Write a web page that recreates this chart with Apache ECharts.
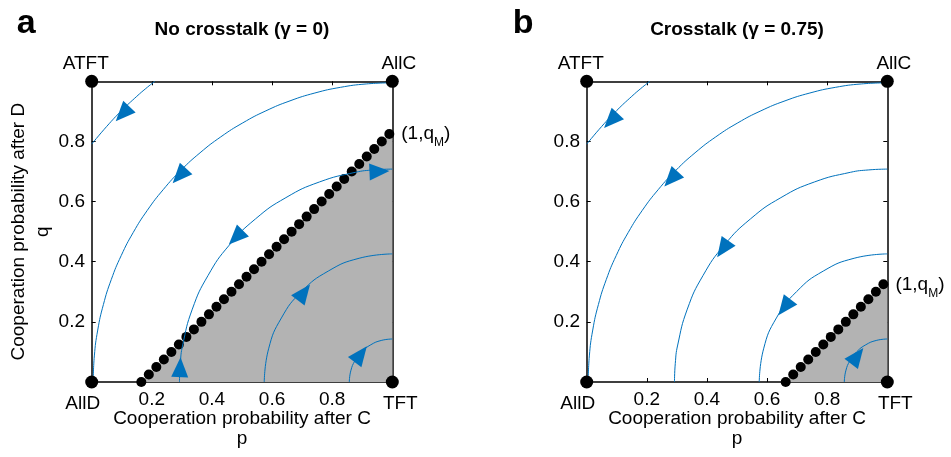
<!DOCTYPE html>
<html>
<head>
<meta charset="utf-8">
<script src="https://cdn.jsdelivr.net/npm/echarts@6/dist/echarts.min.js"></script>
<style>
  html, body { margin: 0; padding: 0; background: #fff; }
  #chart { width: 951px; height: 457px; }
</style>
</head>
<body>
<div id="chart"></div>
<script>
// ---------- data ----------
const tickLabels = ['0.2', '0.4', '0.6', '0.8'];
const panelLetters = ['a', 'b'];
const panelTitles = ['No crosstalk (\u03b3 = 0)', 'Crosstalk (\u03b3 = 0.75)'];
const axisNameP = ['Cooperation probability after C', 'p'];
const axisNameQ = ['Cooperation probability after D', 'q'];

// pure strategies at the corners of the (p, q) square
const cornerNames = ['AllD', 'TFT', 'ATFT', 'AllC'];
const cornerP = [0, 1, 0, 1];
const cornerQ = [0, 0, 1, 1];

// threshold line (black dots), panel a
const dotsPA = [0.165, 0.19, 0.215, 0.24, 0.265, 0.29, 0.315, 0.34, 0.365, 0.39, 0.415, 0.44,
  0.465, 0.49, 0.515, 0.54, 0.565, 0.59, 0.615, 0.64, 0.665, 0.69, 0.715, 0.74, 0.765, 0.79,
  0.815, 0.84, 0.865, 0.89, 0.915, 0.94, 0.965, 0.99];
const dotsQA = [0, 0.025, 0.05, 0.075, 0.1, 0.125, 0.15, 0.175, 0.2, 0.225, 0.25, 0.275,
  0.3, 0.325, 0.35, 0.375, 0.4, 0.425, 0.45, 0.475, 0.5, 0.525, 0.55, 0.575, 0.6, 0.625,
  0.65, 0.675, 0.7, 0.725, 0.75, 0.775, 0.8, 0.825];
// threshold line (black dots), panel b
const dotsPB = [0.662, 0.687, 0.712, 0.737, 0.762, 0.787, 0.812, 0.837, 0.862, 0.887, 0.912, 0.937, 0.962, 0.987];
const dotsQB = [0, 0.025, 0.05, 0.075, 0.1, 0.125, 0.15, 0.175, 0.2, 0.225, 0.25, 0.275, 0.3, 0.325];

// shaded region (below the threshold line)
const shadeA = [[0.165, 0], [1, 0.835]];
const shadeB = [[0.662, 0], [1, 0.338]];

// trajectories around TFT (same in both panels)
const traj1 = [[0, 0.791], [0.05, 0.85], [0.1, 0.903], [0.15, 0.95], [0.18, 0.976], [0.21, 1.0]];
const traj2 = [[0.005, 0], [0.0088, 0.0867], [0.0201, 0.1728], [0.0389, 0.2575], [0.065, 0.3403],
  [0.0982, 0.4205], [0.1383, 0.4975], [0.1849, 0.5707], [0.2378, 0.6396], [0.2964, 0.7036],
  [0.3604, 0.7622], [0.4293, 0.8151], [0.5025, 0.8617], [0.5795, 0.9018], [0.6597, 0.935],
  [0.7425, 0.9611], [0.8272, 0.9799], [0.9133, 0.9912], [1.0, 0.995]];
const traj3 = [[0.292, 0], [0.2947, 0.0617], [0.3027, 0.1229], [0.3347, 0.2422], [0.3869, 0.354],
  [0.4576, 0.4551], [0.5449, 0.5424], [0.646, 0.6131], [0.7578, 0.6653], [0.8771, 0.6973],
  [0.9383, 0.7053], [1.0, 0.708]];
const traj4 = [[0.574, 0], [0.5885, 0.1103], [0.6311, 0.213], [0.6988, 0.3012], [0.787, 0.3689],
  [0.8897, 0.4115], [1.0, 0.426]];
const traj5 = [[0.857, 0], [0.8619, 0.037], [0.8762, 0.0715], [0.8989, 0.1011], [0.9285, 0.1238],
  [0.963, 0.1381], [1.0, 0.143]];
const trajectories = [traj1, traj2, traj3, traj4, traj5];

// arrows: [p, q, trajectory index, direction (+1 along the listed order, -1 against it)]
const arrowsA = [[0.105, 0.894, 0, -1], [0.294, 0.688, 1, -1], [0.294, 0.046, 2, 1],
  [0.482, 0.483, 2, -1], [0.954, 0.70, 2, 1], [0.704, 0.295, 3, 1], [0.893, 0.09, 4, 1]];
const arrowsB = [[0.083, 0.871, 0, -1], [0.283, 0.677, 1, -1], [0.455, 0.445, 2, -1],
  [0.66, 0.251, 3, -1], [0.898, 0.084, 4, 1]];

// ---------- layout / style ----------
const FONT = "'Liberation Sans', Arial, Helvetica, sans-serif";
const BLUE = '#0072BD';
const GRAY = '#b3b3b3';
const gridBoxes = [
  { left: 91.7, top: 81.3, width: 300.6, height: 300.7 },
  { left: 586.7, top: 81.3, width: 300.6, height: 300.7 }
];
const cornerOffsets = [[-9, 21.4], [8, 21.4], [-6, -18], [6.5, -18]];

function tickIndex(v) {
  return tickLabels.findIndex(t => Math.abs(parseFloat(t) - v) < 1e-9);
}

function makeAxis(gridIndex, position, withLabels) {
  const ax = {
    type: 'value', gridIndex, position, min: 0, max: 1, interval: 0.2,
    axisLine: { show: true, onZero: false, lineStyle: { color: '#000', width: 1.5 } },
    axisTick: { show: true, inside: true, length: 4, lineStyle: { color: '#000', width: 1 } },
    splitLine: { show: false },
    axisLabel: { show: false }
  };
  if (withLabels) {
    const horiz = position === 'bottom';
    ax.axisLabel = {
      show: true, showMinLabel: false, showMaxLabel: false,
      color: '#000', fontFamily: FONT, fontSize: 19,
      margin: horiz ? 17.4 : 6.7,
      verticalAlign: 'middle',
      formatter: v => { const i = tickIndex(v); return i >= 0 ? tickLabels[i] : ''; }
    };
  }
  return ax;
}

const xAxes = [], yAxes = [];
for (let g = 0; g < 2; g++) {
  xAxes.push(makeAxis(g, 'bottom', true), makeAxis(g, 'top', false));
  yAxes.push(makeAxis(g, 'left', true), makeAxis(g, 'right', false));
}

// filled arrowheads, oriented along the local direction of their trajectory
function arrowSeries(g, arrows) {
  return {
    type: 'custom', xAxisIndex: 2 * g, yAxisIndex: 2 * g, clip: false, z: 6,
    data: arrows.map(a => [a[0], a[1]]),
    renderItem(params, api) {
      const a = arrows[params.dataIndex];
      const c = api.coord([a[0], a[1]]);
      const pts = trajectories[a[2]].map(pt => api.coord(pt));
      let best = Infinity, dir = [1, 0];
      for (let i = 0; i < pts.length - 1; i++) {
        const s = pts[i], e = pts[i + 1];
        const vx = e[0] - s[0], vy = e[1] - s[1];
        const len2 = vx * vx + vy * vy;
        let t = ((c[0] - s[0]) * vx + (c[1] - s[1]) * vy) / len2;
        t = Math.max(0, Math.min(1, t));
        const dx = s[0] + t * vx - c[0], dy = s[1] + t * vy - c[1];
        const d2 = dx * dx + dy * dy;
        if (d2 < best) { best = d2; dir = [vx, vy]; }
      }
      const n = Math.hypot(dir[0], dir[1]);
      const ux = a[3] * dir[0] / n, uy = a[3] * dir[1] / n;
      const L = 20, W = 17;
      const tip = [c[0] + ux * L * 0.55, c[1] + uy * L * 0.55];
      const bc = [c[0] - ux * L * 0.45, c[1] - uy * L * 0.45];
      const p1 = [bc[0] - uy * W / 2, bc[1] + ux * W / 2];
      const p2 = [bc[0] + uy * W / 2, bc[1] - ux * W / 2];
      return { type: 'polygon', shape: { points: [tip, p1, p2] }, style: { fill: BLUE } };
    }
  };
}

function panelSeries(g, dotsP, dotsQ, shade, arrows) {
  const list = [];
  list.push({
    type: 'line', xAxisIndex: 2 * g, yAxisIndex: 2 * g, data: shade,
    showSymbol: false, lineStyle: { width: 0 }, areaStyle: { color: GRAY, opacity: 1 },
    silent: true, z: 1
  });
  trajectories.forEach(tr => list.push({
    type: 'line', xAxisIndex: 2 * g, yAxisIndex: 2 * g, data: tr, smooth: 0.5,
    showSymbol: false, clip: false, lineStyle: { color: BLUE, width: 1 }, z: 5, silent: true
  }));
  const dots = dotsP.map((p, i) => [p, dotsQ[i]]);
  const last = dots.length - 1;
  list.push({
    type: 'scatter', xAxisIndex: 2 * g, yAxisIndex: 2 * g, symbolSize: 10, z: 4,
    itemStyle: { color: '#000', opacity: 1 },
    data: dots.map((d, i) => i === last ? {
      value: d,
      label: {
        show: true, position: 'right', distance: 7,
        formatter: '{n|(1,q}{s|M}{n|)}',
        rich: {
          n: { fontFamily: FONT, fontSize: 19, color: '#000', lineHeight: 30 },
          s: { fontFamily: FONT, fontSize: 12, color: '#000', lineHeight: 12, verticalAlign: 'bottom' }
        }
      }
    } : d)
  });
  list.push(arrowSeries(g, arrows));
  list.push({
    type: 'scatter', xAxisIndex: 2 * g, yAxisIndex: 2 * g, symbolSize: 13, z: 8, clip: false,
    itemStyle: { color: '#000', opacity: 1 },
    data: cornerNames.map((nm, i) => ({
      value: [cornerP[i], cornerQ[i]],
      label: {
        show: true, position: 'inside', offset: cornerOffsets[i], formatter: nm,
        fontFamily: FONT, fontSize: 19, color: '#000', align: 'center', verticalAlign: 'middle'
      }
    }))
  });
  return list;
}

const graphics = [];
gridBoxes.forEach((b, g) => {
  const cx = b.left + b.width / 2;
  graphics.push({
    type: 'text', x: g === 0 ? 16.7 : 512.7, y: 24,
    style: { text: panelLetters[g], font: `bold 34px ${FONT}`, fill: '#000', textAlign: 'left', textVerticalAlign: 'middle' }
  });
  graphics.push({
    type: 'text', x: cx, y: 30.1,
    style: { text: panelTitles[g], font: `bold 19px ${FONT}`, fill: '#000', textAlign: 'center', textVerticalAlign: 'middle' }
  });
  graphics.push({
    type: 'text', x: cx, y: 418.5,
    style: { text: axisNameP[0], font: `19px ${FONT}`, fill: '#000', textAlign: 'center', textVerticalAlign: 'middle' }
  });
  graphics.push({
    type: 'text', x: cx, y: 439,
    style: { text: axisNameP[1], font: `19px ${FONT}`, fill: '#000', textAlign: 'center', textVerticalAlign: 'middle' }
  });
});
const cy = gridBoxes[0].top + gridBoxes[0].height / 2;
graphics.push({
  type: 'text', x: 18.7, y: cy, rotation: Math.PI / 2,
  style: { text: axisNameQ[0], font: `19px ${FONT}`, fill: '#000', textAlign: 'center', textVerticalAlign: 'middle' }
});
graphics.push({
  type: 'text', x: 42.6, y: cy, rotation: Math.PI / 2,
  style: { text: axisNameQ[1], font: `19px ${FONT}`, fill: '#000', textAlign: 'center', textVerticalAlign: 'middle' }
});

const chart = echarts.init(document.getElementById('chart'), null, { renderer: 'canvas' });
chart.setOption({
  backgroundColor: '#fff',
  animation: false,
  grid: gridBoxes.map(b => Object.assign({ containLabel: false }, b)),
  xAxis: xAxes,
  yAxis: yAxes,
  series: [
    ...panelSeries(0, dotsPA, dotsQA, shadeA, arrowsA),
    ...panelSeries(1, dotsPB, dotsQB, shadeB, arrowsB)
  ],
  graphic: graphics
});
</script>
</body>
</html>
